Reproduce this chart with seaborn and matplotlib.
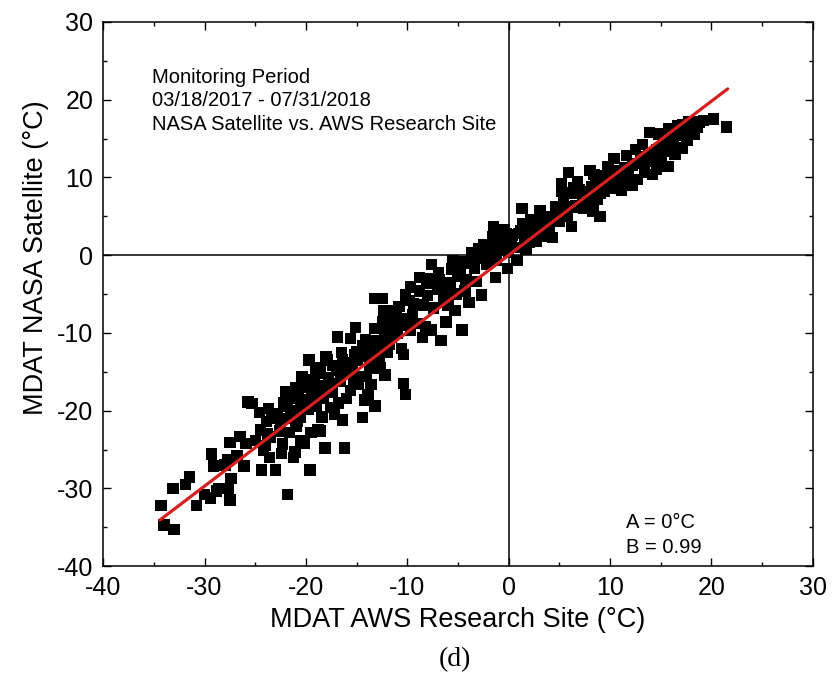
import numpy as np
import pandas as pd
import matplotlib
matplotlib.use("Agg")
import matplotlib.pyplot as plt
import seaborn as sns
from matplotlib.ticker import MultipleLocator

# ---- data ----
aws_x = [
    -34.3, -34.0, -33.0, -33.1, -31.9, -31.5, -30.8, -30.0, -29.4, -29.3, -29.1, -28.8, -28.6,
    -27.7, -27.5, -27.4, -27.5, -27.7, -26.5, -25.9, -26.1, -25.7, -25.3, -24.4, -24.2, -23.9,
    -23.7, -23.5, -23.0, -22.8, -22.5, -22.3, -21.8, -21.8, -21.6, -21.1, -20.9, -20.9, -20.5,
    -20.5, -20.0, -19.7, -19.6, -19.5, -19.3, -19.0, -18.8, -18.6, -18.3, -18.1, -17.9, -17.6,
    -17.2, -16.9, -16.7, -16.5, -16.2, -16.0, -15.6, -15.3, -15.1, -14.9, -14.4, -14.1, -13.9,
    -13.7, -13.2, -13.2, -12.7, -12.5, -12.3, -12.0, -11.6, -11.3, -11.1, -10.6, -10.4, -10.2,
    -10.2, -9.7, -9.7, -9.5, -8.8, -8.5, -8.1, -7.6, -7.6, -6.9, -6.7, -6.2, -6.0, -5.5, -5.3,
    -5.0, -4.6, -4.3, -3.9, -3.6, -3.4, -2.7, -2.5, -2.2, -1.5, -1.3, -1.1, -0.8, -0.4, -0.1,
    0.3, 0.8, 1.0, 1.3, 1.7, 2.0, 2.4, 2.7, 3.1, 3.6, 3.8, 4.3, 4.8, 5.2, 5.5, 5.9, 6.2, 6.4,
    6.9, 7.3, 7.8, 8.0, 8.3, 8.7, 9.0, 9.2, 9.4, 9.9, 10.4, 10.6, 11.1, 11.3, 11.8, 12.2, 12.5,
    12.7, 13.4, 13.9, 14.1, 14.6, 14.8, 15.3, 15.7, 16.2, 16.7, 17.1, 17.4, 17.8, 18.3, 18.8,
    20.2, 21.5,
    -24.5, -23.8, -23.2, -22.6, -22.0, -21.5, -21.0, -20.6, -20.2, -19.8, -19.4, -19.0, -18.6,
    -18.2, -17.8, -17.4, -17.0, -16.6, -16.2, -15.8, -15.4, -15.0, -14.6, -14.2, -13.8, -13.4,
    -13.0, -12.6, -12.2, -11.8, -11.4, -11.0, -10.6, -10.0, -9.4, -9.0, -8.4, -8.0, -7.4, -7.0,
    -6.4, -5.8, -5.2, -4.8, -4.2, -3.8, -3.2, -2.8, -2.2, -1.8, -1.2, -0.6, 0.0, 0.4, 0.8, 1.2,
    1.6, 2.0, 2.4, 2.8, 3.2, 3.6, 4.0, 4.4, 5.0, 5.4, 5.8, 6.2, 6.6, 7.0, 7.4, 7.8, 8.2, 8.6,
    9.0, 9.6, 10.0, 10.4, 10.8, 11.4, 11.8, 12.2, 12.6, 13.0, 13.4, 13.8, 14.2, 14.6, 15.0,
    15.4, 16.0, 16.4, 16.8, 17.2, 17.6, 18.0, 18.6, 19.2,
    -28.0, -26.8, -25.0, -24.0, -22.4, -21.2, -23.4, -22.0, -21.0, -24.6,
    -20.4, -19.0, -18.0, -18.4, -17.6, -16.8, -15.6, -14.8, -14.0, -13.6, -12.8,
    -22.2, -21.4, -20.8, -19.2, -18.8, -17.4, -16.4, -15.2, -14.4, -13.2, -12.4, -11.6, -10.8,
    -9.8, -8.8, -7.8, -6.8, -5.6, -4.4, -3.0, -1.6, -0.2, 1.4, 2.2, 4.6, 5.2, 6.8, 8.4, 9.8,
    11.6, 13.2, 14.8, 15.8, -23.6, -20.2, -18.6, -16.4, -14.2, -12.2, -10.4, -8.2, -6.0,
]
nasa_y = [
    -32.2, -34.7, -35.3, -30.0, -29.5, -28.5, -32.2, -30.8, -31.2, -25.6, -27.1, -30.3, -30.0,
    -26.3, -24.1, -28.7, -31.5, -30.0, -23.3, -24.2, -27.1, -18.9, -19.1, -27.6, -25.1, -21.4,
    -19.7, -23.4, -27.6, -20.4, -21.9, -24.3, -19.4, -30.8, -22.8, -25.3, -21.4, -18.4, -19.5,
    -23.9, -17.0, -13.5, -27.6, -22.8, -16.0, -19.4, -22.4, -14.5, -18.4, -24.8, -13.5, -16.5,
    -20.4, -10.5, -14.5, -12.5, -24.8, -18.4, -10.7, -15.9, -9.3, -13.5, -20.9, -10.9, -17.9,
    -14.5, -5.6, -19.4, -14.5, -5.6, -7.1, -12.5, -10.5, -9.1, -7.6, -12.0, -16.5, -17.9,
    -5.1, -4.1, -9.6, -7.6, -2.9, -10.6, -3.6, -1.2, -9.6, -2.2, -11.0, -8.6, -4.6, -0.7, -7.1,
    -2.7, -9.6, -4.6, -6.1, 0.3, -1.7, -5.1, 1.3, -1.2, 3.7, -2.9, 0.8, 2.3, 3.3, -1.7,
    1.3, -0.7, 2.8, 6.0, 0.8, 3.3, 4.5, 1.8, 5.7, 3.7, 4.7, 2.3, 5.2, 9.2, 6.2, 10.6, 3.7, 8.7,
    6.2, 7.2, 8.2, 10.9, 5.7, 7.2, 5.0, 9.7, 8.2, 9.2, 12.4, 10.2, 8.4, 10.6, 9.2, 11.6, 13.6,
    9.7, 10.6, 15.8, 12.1, 11.1, 13.1, 14.6, 11.4, 15.1, 16.6, 13.8, 16.1, 17.1, 15.6, 17.1,
    17.5, 16.5,
    -22.5, -23.0, -21.0, -22.6, -21.0, -20.0, -22.0, -20.8, -18.6, -19.8, -17.8, -18.2, -16.8,
    -17.5, -15.8, -17.6, -14.8, -16.2, -15.0, -13.8, -14.6, -12.4, -15.6, -13.0, -12.2, -13.6,
    -11.0, -12.0, -10.0, -11.4, -8.4, -10.0, -9.0, -8.2, -6.2, -8.8, -6.4, -5.2, -6.8, -4.4,
    -5.8, -3.6, -5.0, -2.0, -3.2, -1.0, -3.4, -0.4, 0.2, 1.4, -0.6, 1.8, 0.4, 2.6, 1.0, 3.2,
    2.0, 1.6, 3.0, 3.8, 2.4, 5.0, 3.6, 4.6, 4.4, 7.4, 5.0, 8.0, 6.4, 8.4, 6.0, 7.0, 8.8, 9.6,
    8.0, 10.2, 8.6, 10.8, 9.6, 11.2, 10.2, 9.0, 11.8, 12.6, 11.8, 13.0, 10.4, 13.6, 12.6,
    13.4, 14.2, 13.0, 15.4, 16.8, 14.8, 16.4, 16.4, 17.3,
    -27.0, -25.8, -23.8, -24.5, -25.5, -26.0, -20.4, -17.6, -17.0, -20.2,
    -15.6, -14.6, -13.0, -20.8, -19.6, -19.0, -17.4, -16.6, -15.6, -16.6, -13.0,
    -19.0, -18.2, -17.6, -16.4, -15.2, -14.2, -13.4, -12.8, -11.6, -9.4, -8.6, -7.2, -6.6,
    -5.8, -4.6, -3.0, -3.2, -1.8, -0.8, 0.8, 2.4, 2.8, 4.0, 4.6, 6.2, 8.2, 9.4, 10.4, 11.4,
    12.8, 14.2, 15.6, 16.2, -26.0, -24.2, -22.6, -21.2, -18.6, -15.4, -12.8, -9.2, -6.4,
]
fit_A = 0.0
fit_B = 0.99
fit_x = [-34.4, 21.6]

info_lines = ["Monitoring Period", "03/18/2017 - 07/31/2018", "NASA Satellite vs. AWS Research Site"]
coef_lines = ["A = 0°C", "B = 0.99"]

df = pd.DataFrame({"aws": aws_x, "nasa": nasa_y})
fit_df = pd.DataFrame({"x": fit_x, "y": [fit_A + fit_B * v for v in fit_x]})

sns.set_theme(style="ticks")
plt.rcParams["font.family"] = ["Liberation Sans", "DejaVu Sans"]
plt.rcParams["axes.unicode_minus"] = False
plt.rcParams["text.color"] = "black"
plt.rcParams["axes.labelcolor"] = "black"
plt.rcParams["xtick.color"] = "black"
plt.rcParams["ytick.color"] = "black"

fig = plt.figure(figsize=(8.32, 6.83), dpi=100)
ax = fig.add_axes([0.124, 0.171, 0.853, 0.797])

ax.axhline(0, color="black", lw=1.1, zorder=1)
ax.axvline(0, color="black", lw=1.1, zorder=1)

sns.scatterplot(data=df, x="aws", y="nasa", marker="s", s=68, color="black",
                edgecolor="none", linewidth=0, ax=ax, zorder=2, legend=False)
sns.lineplot(data=fit_df, x="x", y="y", color="#d42020", lw=2.3, ax=ax, zorder=3)

ax.set_xlim(-40, 30)
ax.set_ylim(-40, 30)
ax.xaxis.set_major_locator(MultipleLocator(10))
ax.yaxis.set_major_locator(MultipleLocator(10))
ax.xaxis.set_minor_locator(MultipleLocator(5))
ax.yaxis.set_minor_locator(MultipleLocator(5))
ax.tick_params(which="both", direction="in", top=True, right=True, colors="black")
ax.tick_params(which="major", length=6, width=1.0, labelsize=18, pad=7)
ax.tick_params(which="minor", length=3, width=1.0)
for sp in ax.spines.values():
    sp.set_color("black")
    sp.set_linewidth(1.1)

ax.set_xlabel("MDAT AWS Research Site (°C)", fontsize=19.5, labelpad=5, color="black")
ax.set_ylabel("MDAT NASA Satellite (°C)", fontsize=19.5, labelpad=6, color="black")
ax.yaxis.label.set_y(0.566)

for i, t in enumerate(info_lines):
    ax.text(-35.2, 22.9 - 3.02 * i, t, fontsize=14.5, ha="left", va="center", color="black")
for i, t in enumerate(coef_lines):
    ax.text(11.6, -34.4 - 3.2 * i, t, fontsize=14.5, ha="left", va="center", color="black")

fig.text(0.547, 0.034, "(d)", fontsize=20, ha="center", va="center", color="black",
         family=["Liberation Serif", "DejaVu Serif"])

fig.savefig("out.png", dpi=100, facecolor="white")
